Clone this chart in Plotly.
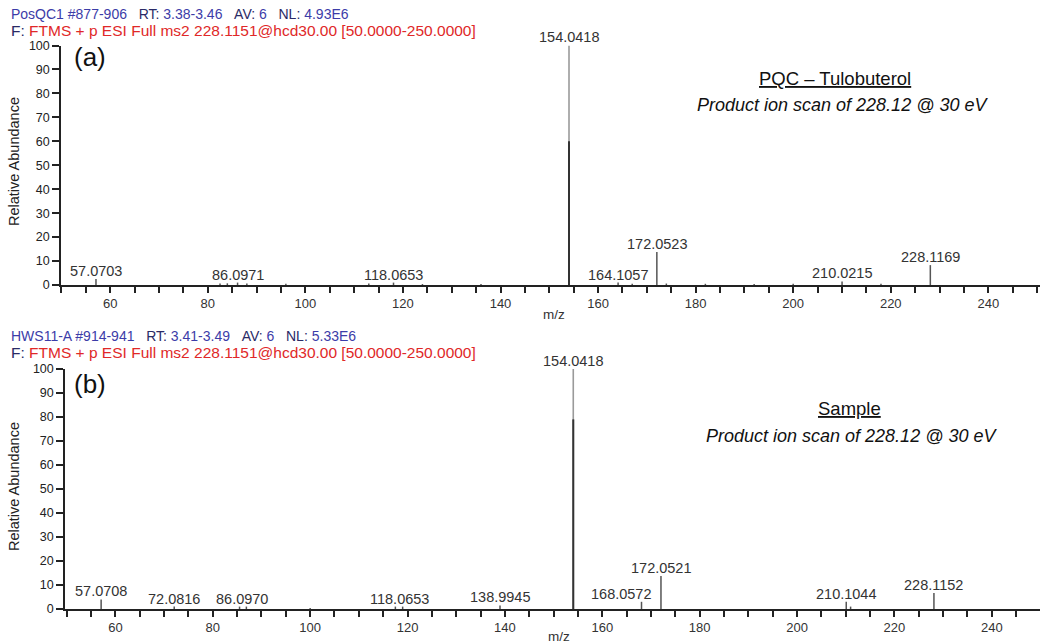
import plotly.graph_objects as go

# ---------------- data ----------------
mz_a = [57.0703, 82.5, 84.0, 86.0971, 88.0, 96.0, 113.0, 118.0653, 124.0, 136.0,
        154.0418, 164.1057, 167.0, 172.0523, 174.0, 182.0, 192.0, 200.0, 210.0215, 218.0, 228.1169]
int_a = [2.5, 0.6, 0.7, 1.0, 0.6, 0.5, 0.6, 1.0, 0.4, 0.4,
         100.0, 1.0, 0.5, 13.8, 0.6, 0.5, 0.4, 0.5, 1.5, 0.5, 8.3]
core_a = {"mz": 154.0418, "int": 60.0}
labels_a = ["57.0703", "86.0971", "118.0653", "154.0418", "164.1057", "172.0523", "210.0215", "228.1169"]
label_mz_a = [57.0703, 86.0971, 118.0653, 154.0418, 164.1057, 172.0523, 210.0215, 228.1169]
label_y_a = [2.5, 1.0, 1.0, 100.0, 1.0, 13.8, 1.5, 8.3]

mz_b = [57.0708, 72.0816, 85.5, 86.9, 100.0, 117.5, 119.0, 138.9945,
        154.0418, 168.0572, 172.0521, 210.1044, 211.0, 228.1152]
int_b = [4.0, 1.0, 1.0, 1.0, 0.4, 1.0, 1.0, 1.5,
         100.0, 3.0, 13.7, 3.0, 1.0, 6.7]
core_b = {"mz": 154.0418, "int": 79.0}
labels_b = ["57.0708", "72.0816", "86.0970", "118.0653", "138.9945", "154.0418", "168.0572", "172.0521", "210.1044", "228.1152"]
label_mz_b = [57.0708, 72.0816, 86.0970, 118.4, 138.9945, 154.0418, 163.8, 172.0521, 210.1044, 228.1152]
label_y_b = [4.0, 1.0, 1.0, 1.0, 1.5, 100.0, 3.0, 13.7, 3.0, 6.7]

FONT = "Liberation Sans, Arial, sans-serif"
W, H = 1040, 644

def px(p):
    return p / W

def py(p):
    return 1 - p / H

def stems(mz, inten, keep):
    xs, ys = [], []
    for m, v in zip(mz, inten):
        if keep(v):
            xs += [m, m, None]
            ys += [0, v, None]
    return xs, ys

fig = go.Figure()

def add_spectrum(mz, inten, core, xr, yr):
    top = max(inten)
    xs, ys = stems(mz, inten, lambda v: v < top)
    fig.add_trace(go.Scatter(x=xs, y=ys, mode="lines", line=dict(color="#555555", width=1.5),
                             xaxis=xr, yaxis=yr, showlegend=False, hoverinfo="skip"))
    xs, ys = stems(mz, inten, lambda v: v >= top)
    fig.add_trace(go.Scatter(x=xs, y=ys, mode="lines", line=dict(color="#9a9a9a", width=1.6),
                             xaxis=xr, yaxis=yr, showlegend=False, hoverinfo="skip"))
    xs, ys = stems([core["mz"]], [core["int"]], lambda v: True)
    fig.add_trace(go.Scatter(x=xs, y=ys, mode="lines", line=dict(color="#333333", width=2),
                             xaxis=xr, yaxis=yr, showlegend=False, hoverinfo="skip"))

add_spectrum(mz_a, int_a, core_a, "x", "y")
add_spectrum(mz_b, int_b, core_b, "x2", "y2")

def xaxis_cfg(left_px, vmin, vmax):
    return dict(domain=[px(left_px), 1], range=[vmin, vmax], showgrid=False, zeroline=False,
                automargin=False,
                showline=True, linecolor="#222", linewidth=1.5,
                ticks="outside", ticklen=6, tickwidth=1.5, tickcolor="#222",
                tick0=0, dtick=20,
                minor=dict(ticks="outside", ticklen=6, tickwidth=1.5, tickcolor="#222", dtick=5, showgrid=False),
                tickfont=dict(family=FONT, size=13, color="#333"))

def yaxis_cfg(bottom_px, top_px, anchor):
    return dict(domain=[py(bottom_px), py(top_px)], range=[0, 100], anchor=anchor,
                automargin=False,
                showgrid=False, zeroline=False, showline=True, linecolor="#222", linewidth=1.5,
                ticks="outside", ticklen=7, tickwidth=1.5, tickcolor="#222", dtick=10,
                tickfont=dict(family=FONT, size=12.5, color="#222"))

fig.update_layout(
    width=W, height=H, margin=dict(l=0, r=0, t=0, b=0, autoexpand=False),
    paper_bgcolor="white", plot_bgcolor="white",
    xaxis=dict(anchor="y", **xaxis_cfg(61, 49.9, 250.6)),
    yaxis=yaxis_cfg(285, 45.5, "x"),
    xaxis2=dict(anchor="y2", **xaxis_cfg(65, 49.65, 249.9)),
    yaxis2=yaxis_cfg(609, 369, "x2"),
)

ann = []
def add_peak_labels(labels, lmz, ly, xr, yr):
    for t, m, v in zip(labels, lmz, ly):
        ann.append(dict(x=m, y=v, xref=xr, yref=yr, text=t, showarrow=False,
                        xanchor="center", yanchor="bottom", yshift=-2,
                        font=dict(family=FONT, size=14.5, color="#333")))

add_peak_labels(labels_a, label_mz_a, label_y_a, "x", "y")
add_peak_labels(labels_b, label_mz_b, label_y_b, "x2", "y2")

BLUE = "#3c3ca8"
NAVY = "#2a2a66"
RED = "#e02828"
SP = "&nbsp;&nbsp;&nbsp;"

def header(line1_parts, y1, y2):
    t1 = "".join(f"<span style='color:{c}'>{s}</span>" for s, c in line1_parts)
    ann.append(dict(x=px(9), y=py(y1), xref="paper", yref="paper", text=t1, showarrow=False,
                    xanchor="left", yanchor="middle", font=dict(family=FONT, size=14)))
    t2 = (f"<span style='color:{NAVY}'>F: </span><span style='color:{RED}'>FTMS + p ESI Full ms2 "
          f"228.1151@hcd30.00 [50.0000-250.0000]</span>")
    ann.append(dict(x=px(9), y=py(y2), xref="paper", yref="paper", text=t2, showarrow=False,
                    xanchor="left", yanchor="middle", font=dict(family=FONT, size=15.5)))

header([("PosQC1 #877-906", BLUE), (SP + "RT: ", NAVY), ("3.38-3.46", BLUE), (SP + "AV: ", NAVY),
        ("6", BLUE), (SP + "NL: ", NAVY), ("4.93E6", BLUE)], 14, 30)
header([("HWS11-A #914-941", BLUE), (SP + "RT: ", NAVY), ("3.41-3.49", BLUE), (SP + "AV: ", NAVY),
        ("6", BLUE), (SP + "NL: ", NAVY), ("5.33E6", BLUE)], 336, 352)

for y in (162, 487):
    ann.append(dict(x=px(14), y=py(y), xref="paper", yref="paper", text="Relative Abundance",
                    textangle=-90, showarrow=False, xanchor="center", yanchor="middle",
                    font=dict(family=FONT, size=14.5, color="#222")))
for x, y in ((554, 314), (559, 636)):
    ann.append(dict(x=px(x), y=py(y), xref="paper", yref="paper", text="m/z", showarrow=False,
                    xanchor="center", yanchor="middle", font=dict(family=FONT, size=13.5, color="#333")))

for t, y in (("(a)", 57), ("(b)", 384)):
    ann.append(dict(x=px(90), y=py(y), xref="paper", yref="paper", text=t, showarrow=False,
                    xanchor="center", yanchor="middle", font=dict(family=FONT, size=26, color="#111")))

for t, x, y in (("<u>PQC – Tulobuterol</u>", 835, 78), ("<u>Sample</u>", 849, 408)):
    ann.append(dict(x=px(x), y=py(y), xref="paper", yref="paper", text=t, showarrow=False,
                    xanchor="center", yanchor="middle", font=dict(family=FONT, size=18.5, color="#111")))
for x, y in ((842, 105), (851, 436)):
    ann.append(dict(x=px(x), y=py(y), xref="paper", yref="paper",
                    text="<i>Product ion scan of 228.12 @ 30 eV</i>", showarrow=False,
                    xanchor="center", yanchor="middle", font=dict(family=FONT, size=18, color="#111")))

fig.update_layout(annotations=ann)
fig.write_html("out.html", config={"displayModeBar": False},
               post_script="document.body.style.margin='0';")
